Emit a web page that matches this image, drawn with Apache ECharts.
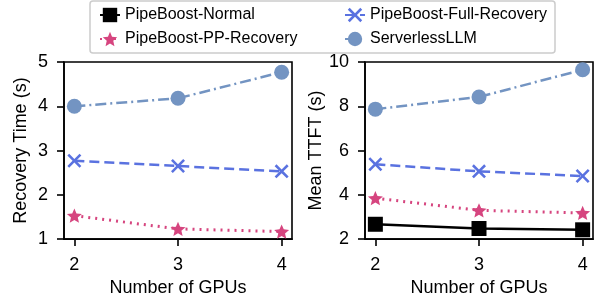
<!DOCTYPE html>
<html>
<head>
<meta charset="utf-8">
<script src="https://cdn.jsdelivr.net/npm/echarts@6/dist/echarts.min.js"></script>
<style>
html,body{margin:0;padding:0;background:#fff;}
#c{width:597px;height:302px;}
</style>
</head>
<body>
<div id="c"></div>
<script>
// ---- data ----
var gpus = [2, 3, 4];
var xTicks = [2, 3, 4];
var seriesNames = ['PipeBoost-Normal', 'PipeBoost-PP-Recovery', 'PipeBoost-Full-Recovery', 'ServerlessLLM'];
// Left: Recovery Time (s)
var recPP = [1.53, 1.23, 1.17];
var recFull = [2.77, 2.65, 2.53];
var recServerless = [4.00, 4.18, 4.77];
// Right: Mean TTFT (s)
var ttftNormal = [2.67, 2.48, 2.42];
var ttftPP = [3.85, 3.30, 3.18];
var ttftFull = [5.38, 5.06, 4.85];
var ttftServerless = [7.87, 8.42, 9.65];
var leftYTicks = [1, 2, 3, 4, 5];
var rightYTicks = [2, 4, 6, 8, 10];

var FONT = "'Liberation Sans', Arial, Helvetica, sans-serif";
var STAR = 'path://M50,0 L63.5,31 L97.55,34.55 L71.5,57 L79.39,90.45 L50,73 L20.61,90.45 L28.5,57 L2.45,34.55 L36.5,31 Z';
var XMARK = 'path://M0,1.3 L1.3,0 L5,3.7 L8.7,0 L10,1.3 L6.3,5 L10,8.7 L8.7,10 L5,6.3 L1.3,10 L0,8.7 L3.7,5 Z';

var styles = {
  'PipeBoost-Normal': {color: '#000000', symbol: 'rect', symbolSize: 15, lineType: 'solid', width: 2.5},
  'PipeBoost-PP-Recovery': {color: '#d6457f', symbol: STAR, symbolSize: 15, lineType: [2, 5], width: 3},
  'PipeBoost-Full-Recovery': {color: '#5a72e0', symbol: XMARK, symbolSize: 14, lineType: [10, 5], width: 2.5},
  'ServerlessLLM': {color: '#7394c2', symbol: 'circle', symbolSize: 15, lineType: [11, 4, 2, 4], width: 2.5}
};

function pts(vals) { return gpus.map(function (g, i) { return [g, vals[i]]; }); }
function mk(name, vals, idx) {
  var s = styles[name];
  return {
    name: name, type: 'line', xAxisIndex: idx, yAxisIndex: idx,
    data: pts(vals),
    symbol: s.symbol, symbolSize: s.symbolSize, symbolKeepAspect: true,
    itemStyle: {color: s.color},
    lineStyle: {color: s.color, width: s.width, type: s.lineType},
    z: 3
  };
}

function xAxis(idx) {
  return {
    type: 'value', gridIndex: idx, min: 1.9, max: 4.1,
    name: 'Number of GPUs', nameLocation: 'middle', nameGap: 37,
    nameTextStyle: {fontSize: 18, fontFamily: FONT, color: '#000'},
    axisLine: {show: true, lineStyle: {color: '#000', width: 1.6}},
    axisTick: {show: true, customValues: xTicks, length: 7, lineStyle: {color: '#000', width: 1.6}},
    axisLabel: {customValues: xTicks, fontSize: 18, fontFamily: FONT, color: '#000', margin: 17},
    splitLine: {show: false}
  };
}
function yAxis(idx, name, min, max, interval, gap) {
  return {
    type: 'value', gridIndex: idx, min: min, max: max, interval: interval,
    name: name, nameLocation: 'middle', nameGap: gap, nameRotate: 90,
    nameTextStyle: {fontSize: 18, fontFamily: FONT, color: '#000'},
    axisLine: {show: true, lineStyle: {color: '#000', width: 1.6}},
    axisTick: {show: true, length: 7, lineStyle: {color: '#000', width: 1.6}},
    axisLabel: {fontSize: 18, fontFamily: FONT, color: '#000', margin: 16},
    splitLine: {show: false}
  };
}

var legendCommon = {
  orient: 'vertical', top: 1, itemGap: 6, itemWidth: 20, itemHeight: 18,
  textStyle: {fontSize: 16, fontFamily: FONT, color: '#000', lineHeight: 18},
  selectedMode: false
};

var chart = echarts.init(document.getElementById('c'), null, {renderer: 'canvas'});
chart.setOption({
  backgroundColor: '#fff',
  animation: false,
  graphic: [{
    type: 'rect', z: 0,
    shape: {x: 90, y: 1, width: 465, height: 52, r: 3},
    style: {fill: '#fff', stroke: '#cccccc', lineWidth: 1.5}
  }],
  legend: [
    Object.assign({left: 94, data: ['PipeBoost-Normal', 'PipeBoost-PP-Recovery']}, legendCommon),
    Object.assign({left: 339, data: ['PipeBoost-Full-Recovery', 'ServerlessLLM']}, legendCommon)
  ],
  grid: [
    {left: 64, top: 62, width: 228, height: 179, show: true, borderColor: '#000', borderWidth: 1.6, backgroundColor: 'transparent'},
    {left: 365, top: 62, width: 228, height: 179, show: true, borderColor: '#000', borderWidth: 1.6, backgroundColor: 'transparent'}
  ],
  xAxis: [xAxis(0), xAxis(1)],
  yAxis: [
    yAxis(0, 'Recovery Time (s)', leftYTicks[0], leftYTicks[leftYTicks.length - 1], 1, 34),
    yAxis(1, 'Mean TTFT (s)', rightYTicks[0], rightYTicks[rightYTicks.length - 1], 2, 35)
  ],
  series: [
    mk('PipeBoost-PP-Recovery', recPP, 0),
    mk('PipeBoost-Full-Recovery', recFull, 0),
    mk('ServerlessLLM', recServerless, 0),
    mk('PipeBoost-Normal', ttftNormal, 1),
    mk('PipeBoost-PP-Recovery', ttftPP, 1),
    mk('PipeBoost-Full-Recovery', ttftFull, 1),
    mk('ServerlessLLM', ttftServerless, 1)
  ]
});
</script>
</body>
</html>
